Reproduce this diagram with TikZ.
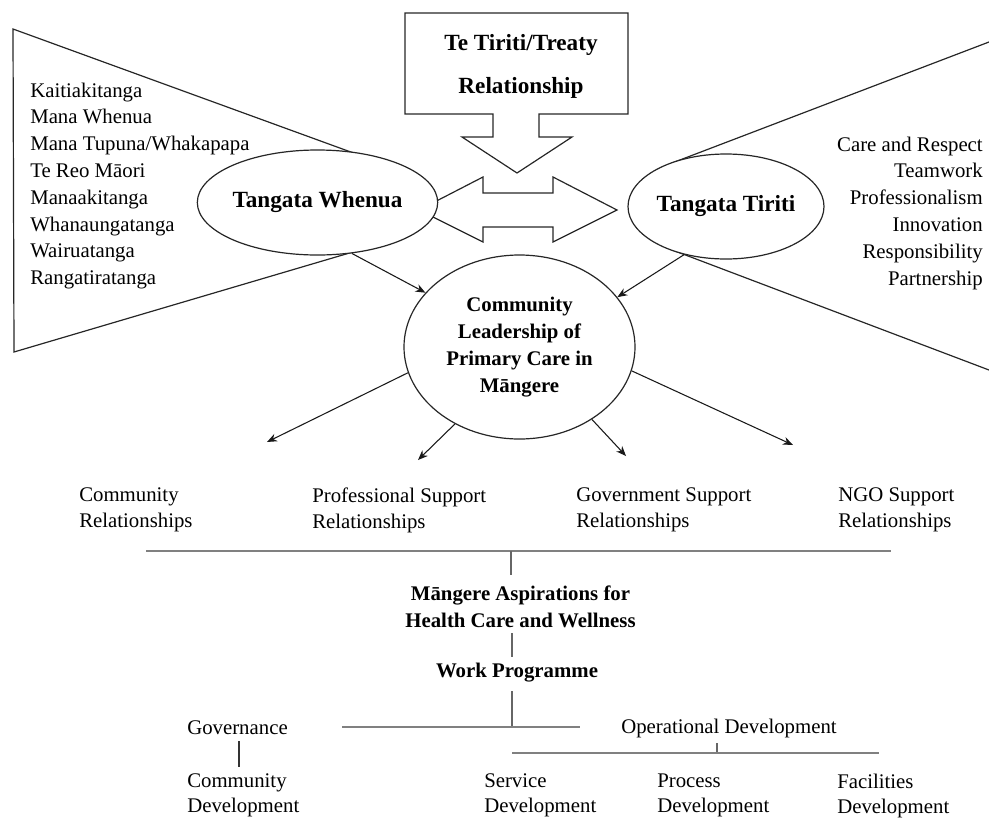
\documentclass[tikz,border=0pt]{standalone}
\usepackage{fontspec}
\setmainfont{Liberation Serif}
\usetikzlibrary{shapes.geometric,arrows.meta}
\begin{document}
\begin{tikzpicture}[x=0.75pt,y=-0.75pt,
  outline/.style={draw=black!85, line width=0.9pt, line join=miter},
  ell/.style={ellipse, draw=black!85, line width=0.9pt, fill=white, inner sep=0pt},
  lbl/.style={inner sep=0pt, text=black, font=\fontsize{15.6}{19.5}\selectfont},
  blbl/.style={inner sep=0pt, text=black, font=\fontsize{15.6}{20.25}\selectfont\bfseries},
  big/.style={inner sep=0pt, text=black, font=\fontsize{17.4}{32.25}\selectfont\bfseries},
  arr/.style={draw=black!90, -{Stealth[length=7.5pt,width=6pt]}, line width=0.8pt},
  hline/.style={draw=black!50, line width=2pt},
  tick/.style={draw=black!60, line width=1.2pt},
  thintick/.style={draw=black!80, line width=1pt}]
\useasboundingbox (0,0) rectangle (989,818);

% ---- left funnel ----
\coordinate (L1) at (13,29);
\coordinate (L2) at (14,352);
\coordinate (T1) at (370,159);
\coordinate (T2) at (363,249);
\draw[outline] (T1) -- (L1) -- (L2) -- (T2);

% ---- right funnel ----
\coordinate (R1) at (989,42);
\coordinate (R2) at (989,370);
\coordinate (T3) at (671,163.4);
\coordinate (T4) at (671.5,249.7);
\draw[outline] (R1) -- (T3);
\draw[outline] (R2) -- (T4);

% ---- treaty box with down arrow ----
\draw[outline] (405,13) -- (628,13) -- (628,114) -- (539,114) -- (539,137)
  -- (572,137) -- (517,173) -- (462,137) -- (493,137) -- (493,114)
  -- (405,114) -- cycle;
\node[big, align=center] (treaty) at (521,66) {Te Tiriti/Treaty\\Relationship};

% ---- double arrow ----
\draw[outline] (419,210) -- (483,177) -- (483,193) -- (553,193) -- (553,177)
  -- (617,210) -- (553,242) -- (553,227) -- (483,227) -- (483,242) -- cycle;

% ---- ellipses ----
\node[ell, minimum width=143.25pt, minimum height=78.75pt,
  font=\fontsize{17.4}{20}\selectfont\bfseries, text=black] (tw) at (317.5,202.5) {Tangata Whenua};
\node[ell, minimum width=144pt, minimum height=78.75pt,
  font=\fontsize{17.4}{20}\selectfont\bfseries, text=black] (tt) at (726,206.5) {Tangata Tiriti};
\node[ell, minimum width=173.25pt, minimum height=138pt, align=center,
  font=\fontsize{15.6}{20.25}\selectfont\bfseries, text=black] (ce) at (519.5,347)
  {Community\\Leadership of\\Primary Care in\\Māngere};

% ---- value lists ----
\node[lbl, align=left, anchor=west, font=\fontsize{15.6}{20.1}\selectfont] (twlist) at (30,186)
  {Kaitiakitanga\\Mana Whenua\\Mana Tupuna/Whakapapa\\Te Reo Māori\\Manaakitanga\\Whanaungatanga\\Wairuatanga\\Rangatiratanga};
\node[lbl, align=right, anchor=east, font=\fontsize{15.6}{20.1}\selectfont] (ttlist) at (983,213)
  {Care and Respect\\Teamwork\\Professionalism\\Innovation\\Responsibility\\Partnership};

% ---- arrows ----
\draw[arr] (tw.-56) -- (ce.150);
\draw[arr] (tt.-131) -- (ce.27);
\coordinate (a1) at (267,442);
\coordinate (a2) at (418,460);
\coordinate (a3) at (626,456);
\coordinate (a4) at (793,445);
\draw[arr] (ce.-167) -- (a1);
\draw[arr] (ce.-130) -- (a2);
\draw[arr] (ce.-45) -- (a3);
\draw[arr] (ce.-12.5) -- (a4);

% ---- relationships ----
\node[lbl, align=left, anchor=west] (comrel) at (79,510) {Community\\Relationships};
\node[lbl, align=left, anchor=west] (profrel) at (312,510) {Professional Support\\Relationships};
\node[lbl, align=left, anchor=west] (govrel) at (576,510) {Government Support\\Relationships};
\node[lbl, align=left, anchor=west] (ngorel) at (838,510) {NGO Support\\Relationships};

\coordinate (m1) at (146,551);
\coordinate (m2) at (891,551);
\coordinate (mt) at (511,551);
\draw[hline] (m1) -- (m2);

\node[blbl, align=center] (asp) at (520.5,607) {Māngere Aspirations for\\Health Care and Wellness};
\draw[tick] (mt) -- (mt |- 0,575);

\node[blbl] (work) at (517,673) {Work Programme};
\coordinate (w1) at (512,633);
\coordinate (w2) at (512,657);
\draw[tick] (w1) -- (w2);

\coordinate (g1) at (342,727);
\coordinate (g2) at (580,727);
\coordinate (wt) at (512,691);
\draw[tick] (wt) -- (wt |- g1);
\draw[hline] (g1) -- (g2);

\node[lbl, anchor=west] (gov) at (187,728) {Governance};
\node[lbl, align=left, anchor=west, font=\fontsize{15.6}{18.75}\selectfont] (comdev) at (187,795.5) {Community\\Development};
\coordinate (gt1) at (239,741);
\coordinate (gt2) at (239,767);
\draw[thintick] (gt1) -- (gt2);

\node[lbl, anchor=west] (opdev) at (621,728) {Operational Development};
\coordinate (o1) at (512,753);
\coordinate (o2) at (879,753);
\coordinate (ot) at (717,743);
\draw[tick] (ot) -- (ot |- o1);
\draw[hline] (o1) -- (o2);

\node[lbl, align=left, anchor=west, font=\fontsize{15.6}{18.75}\selectfont] (servdev) at (484,795.5) {Service\\Development};
\node[lbl, align=left, anchor=west, font=\fontsize{15.6}{18.75}\selectfont] (procdev) at (657,795.5) {Process\\Development};
\node[lbl, align=left, anchor=west, font=\fontsize{15.6}{18.75}\selectfont] (facdev) at (837,795.5) {Facilities\\Development};
\end{tikzpicture}
\end{document}
